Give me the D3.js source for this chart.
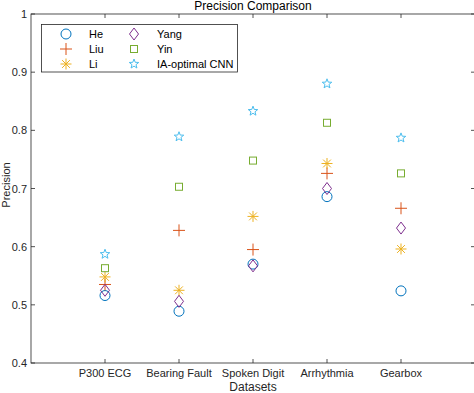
<!DOCTYPE html>
<html>
<head>
<meta charset="utf-8">
<script src="https://cdn.jsdelivr.net/npm/d3@7"></script>
<style>
  body { margin: 0; background: #fff; }
  text { font-family: "Liberation Sans", Arial, sans-serif; }
</style>
</head>
<body>
<script>
const datasets = ["P300 ECG", "Bearing Fault", "Spoken Digit", "Arrhythmia", "Gearbox"];
const methods = ["He", "Liu", "Li", "Yang", "Yin", "IA-optimal CNN"];
const He   = [0.516, 0.489, 0.570, 0.686, 0.524];
const Liu  = [0.535, 0.628, 0.595, 0.726, 0.666];
const Li   = [0.548, 0.525, 0.652, 0.743, 0.596];
const Yang = [0.525, 0.506, 0.567, 0.700, 0.632];
const Yin  = [0.563, 0.703, 0.748, 0.813, 0.726];
const IA   = [0.587, 0.789, 0.833, 0.880, 0.787];
const yTicks = [0.4, 0.5, 0.6, 0.7, 0.8, 0.9, 1];

const series = [
  {name: "He", values: He, color: "#0072BD", shape: "circle"},
  {name: "Liu", values: Liu, color: "#D95319", shape: "plus"},
  {name: "Li", values: Li, color: "#EDB120", shape: "asterisk"},
  {name: "Yang", values: Yang, color: "#7E2F8E", shape: "diamond"},
  {name: "Yin", values: Yin, color: "#77AC30", shape: "square"},
  {name: "IA-optimal CNN", values: IA, color: "#4DBEEE", shape: "star"}
];

const width = 474, height = 393;
const margin = {left: 31, right: -1, top: 14, bottom: 30};

const svg = d3.select("body").append("svg")
    .attr("width", width)
    .attr("height", height);

const x = d3.scaleLinear().domain([0, 6]).range([margin.left, width - margin.right]);
const y = d3.scaleLinear().domain([0.4, 1]).range([height - margin.bottom, margin.top]);

const axisColor = "#262626";
const x0 = x(0), x1 = x(6), y0 = y(0.4), y1 = y(1);

// box
svg.append("rect")
    .attr("x", x0).attr("y", y1)
    .attr("width", x1 - x0).attr("height", y0 - y1)
    .attr("fill", "none").attr("stroke", axisColor).attr("stroke-width", 0.8);

// y ticks
yTicks.forEach(t => {
  svg.append("line").attr("x1", x0).attr("x2", x0 + 4)
    .attr("y1", y(t)).attr("y2", y(t)).attr("stroke", axisColor).attr("stroke-width", 0.8);
  svg.append("line").attr("x1", x1).attr("x2", x1 - 4)
    .attr("y1", y(t)).attr("y2", y(t)).attr("stroke", axisColor).attr("stroke-width", 0.8);
  svg.append("text").attr("x", x0 - 4).attr("y", y(t) + 4)
    .attr("text-anchor", "end").attr("font-size", 11).attr("fill", axisColor)
    .text(t === 1 ? "1" : t.toFixed(1));
});

// x ticks
datasets.forEach((d, i) => {
  const xp = x(i + 1);
  svg.append("line").attr("x1", xp).attr("x2", xp)
    .attr("y1", y0).attr("y2", y0 - 4).attr("stroke", axisColor).attr("stroke-width", 0.8);
  svg.append("line").attr("x1", xp).attr("x2", xp)
    .attr("y1", y1).attr("y2", y1 + 4).attr("stroke", axisColor).attr("stroke-width", 0.8);
  svg.append("text").attr("x", xp).attr("y", y0 + 14)
    .attr("text-anchor", "middle").attr("font-size", 11).attr("fill", axisColor)
    .text(d);
});

// labels
svg.append("text").attr("x", (x0 + x1) / 2).attr("y", 10)
  .attr("text-anchor", "middle").attr("font-size", 12).attr("fill", "#000")
  .text("Precision Comparison");
svg.append("text").attr("x", (x0 + x1) / 2).attr("y", 391)
  .attr("text-anchor", "middle").attr("font-size", 12).attr("fill", axisColor)
  .text("Datasets");
svg.append("text")
  .attr("transform", `translate(10,185) rotate(-90)`)
  .attr("text-anchor", "middle").attr("font-size", 11).attr("fill", axisColor)
  .text("Precision");

function marker(g, shape, color) {
  const s = 1;
  if (shape === "circle") {
    g.append("circle").attr("r", 5).attr("fill", "none").attr("stroke", color).attr("stroke-width", s);
  } else if (shape === "plus") {
    g.append("path").attr("d", "M-6,0H6M0,-6V6").attr("stroke", color).attr("stroke-width", s).attr("fill", "none");
  } else if (shape === "asterisk") {
    const r = 5.5, a = r * Math.cos(Math.PI / 4);
    g.append("path").attr("d", `M-${r},0H${r}M0,-${r}V${r}M-${a},-${a}L${a},${a}M-${a},${a}L${a},-${a}`)
      .attr("stroke", color).attr("stroke-width", s).attr("fill", "none");
  } else if (shape === "diamond") {
    g.append("path").attr("d", "M0,-6L4.5,0L0,6L-4.5,0Z").attr("stroke", color).attr("stroke-width", s).attr("fill", "none");
  } else if (shape === "square") {
    g.append("rect").attr("x", -3.5).attr("y", -3.5).attr("width", 7).attr("height", 7)
      .attr("stroke", color).attr("stroke-width", s).attr("fill", "none");
  } else if (shape === "star") {
    const pts = [];
    for (let k = 0; k < 10; k++) {
      const r = k % 2 === 0 ? 5 : 2.1;
      const ang = -Math.PI / 2 + k * Math.PI / 5;
      pts.push([r * Math.cos(ang), r * Math.sin(ang)]);
    }
    g.append("path").attr("d", "M" + pts.map(p => p.join(",")).join("L") + "Z")
      .attr("stroke", color).attr("stroke-width", s).attr("fill", "none");
  }
}

// points
series.forEach(sr => {
  sr.values.forEach((v, i) => {
    const g = svg.append("g").attr("transform", `translate(${x(i + 1)},${y(v)})`);
    marker(g, sr.shape, sr.color);
  });
});

// legend
const leg = svg.append("g");
leg.append("rect").attr("x", 41.5).attr("y", 24.5).attr("width", 196).attr("height", 47.5)
  .attr("fill", "#fff").attr("stroke", axisColor).attr("stroke-width", 0.8);
series.forEach((sr, i) => {
  const col = Math.floor(i / 3), row = i % 3;
  const lx = 66 + col * 68, ly = 34 + row * 15;
  const g = leg.append("g").attr("transform", `translate(${lx},${ly})`);
  marker(g, sr.shape, sr.color);
  leg.append("text").attr("x", lx + 23).attr("y", ly + 4).attr("font-size", 11).attr("fill", "#000")
    .text(sr.name);
});
</script>
</body>
</html>
